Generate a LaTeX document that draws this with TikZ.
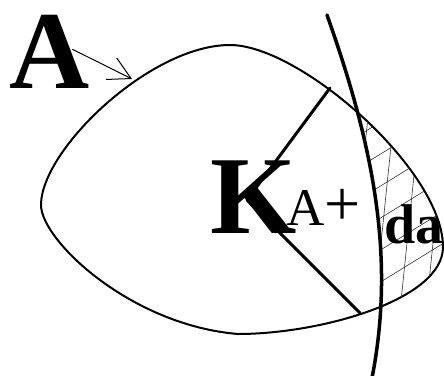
\documentclass[tikz,border=0pt]{standalone}
\usepackage{fontspec}
\setmainfont{Liberation Serif}
\usetikzlibrary{arrows.meta}

\begin{document}
\begin{tikzpicture}[x=1pt,y=-1pt,line cap=round,line join=round,
  letter/.style={inner sep=0pt,anchor=base west},
  hatch/.style={line width=0.6pt,black!80}]
\useasboundingbox (0,0) rectangle (444,375);

% --- the region A (closed egg curve) ---
\def\eggpath{(41,205) .. controls (41,150) and (150,45) .. (230,45)
  .. controls (300,45) and (443,170) .. (443,247)
  .. controls (443,300) and (320,334) .. (238,334)
  .. controls (130,325) and (41,240) .. cycle}
\draw[line width=2pt] \eggpath;

% --- hatched strip between boundary and cut ---
\begin{scope}
  \clip \eggpath;
  \clip (327,15) .. controls (375,150) and (395,260) .. (372,378)
        -- (460,378) -- (460,0) -- cycle;
  \foreach \x in {345,371,...,460}
    \draw[hatch] (\x,340) -- ++(33,-320);
  \foreach \y in {115,147,...,380}
    \draw[hatch] (340,\y) -- ++(120,-74);
\end{scope}

% --- the cut (thick curve) ---
\draw[line width=3.5pt] (327,15) .. controls (375,150) and (395,260) .. (372,378);

% --- the two straight lines of K ---
\coordinate (top) at (330,88);
\coordinate (vtx) at (247,200);
\coordinate (bot) at (360,313);
\draw[line width=3pt] (top) -- (vtx) -- (bot);

% --- labels ---
\node[letter,font=\fontsize{111}{111}\selectfont\bfseries] (A) at (9,88) {A};
\node[letter,font=\fontsize{111}{111}\selectfont\bfseries] (K) at (210,233) {K};
\node[letter,font=\fontsize{53}{53}\selectfont] (sub) at (286,225)
  {A\fontsize{64}{64}\selectfont+};
\node[letter,font=\fontsize{56}{56}\selectfont\bfseries] (da) at (384,243) {da};

% arrow from A to the boundary
\coordinate (aTip) at (132,79);
\draw[line width=1pt,-{Straight Barb[length=22pt,width=24pt,line width=1pt]}]
  ([xshift=-17pt,yshift=2pt]A.east) -- (aTip);

\end{tikzpicture}
\end{document}
